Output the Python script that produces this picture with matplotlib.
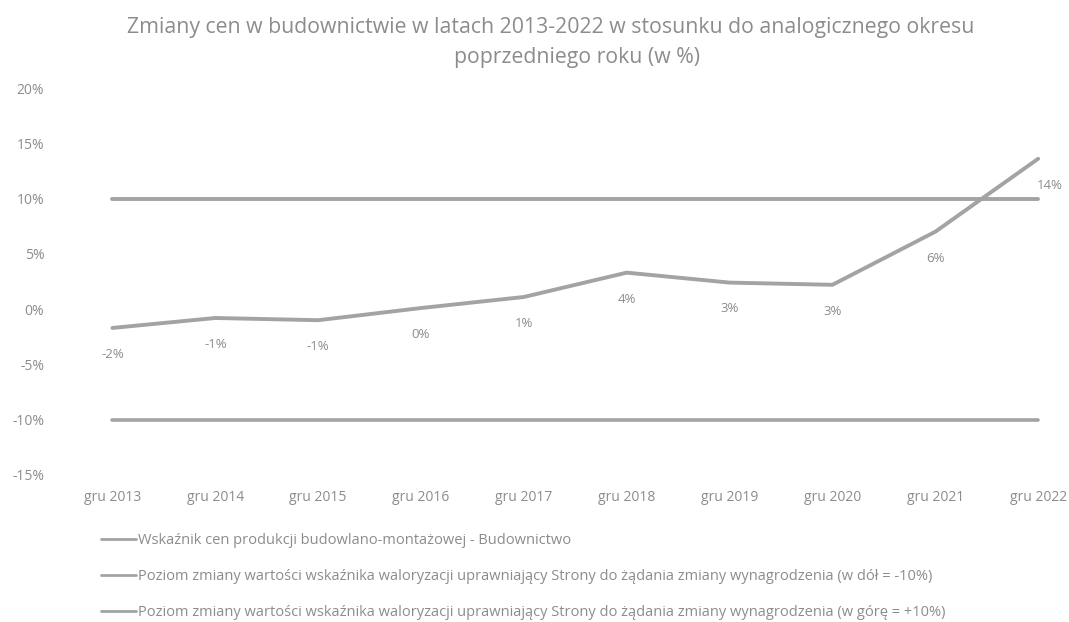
import matplotlib.pyplot as plt
import numpy as np

plt.rcParams['font.family'] = ['Open Sans', 'DejaVu Sans']

lata = ["gru 2013", "gru 2014", "gru 2015", "gru 2016", "gru 2017",
        "gru 2018", "gru 2019", "gru 2020", "gru 2021", "gru 2022"]
wskaznik = [-1.7, -0.8, -1.0, 0.1, 1.1, 3.3, 2.4, 2.2, 7.0, 13.6]
etykiety = ["-2%", "-1%", "-1%", "0%", "1%", "4%", "3%", "3%", "6%", "14%"]
poziom_dol = [-10] * 10
poziom_gora = [10] * 10

nazwy = [
    "Wskaźnik cen produkcji budowlano-montażowej - Budownictwo",
    "Poziom zmiany wartości wskaźnika waloryzacji uprawniający Strony do żądania zmiany wynagrodzenia (w dół = -10%)",
    "Poziom zmiany wartości wskaźnika waloryzacji uprawniający Strony do żądania zmiany wynagrodzenia (w górę = +10%)",
]

szary = "#a3a3a3"
tekst = "#8c8c8c"


def main():
    fig = plt.figure(figsize=(10.69, 6.22), dpi=100)
    ax = fig.add_axes([61 / 1069, 1 - 475 / 622, (1069 - 61) / 1069, (475 - 88) / 622])

    x = np.arange(len(lata))
    l1, = ax.plot(x, wskaznik, color=szary, lw=2.8, solid_capstyle="round")
    l2, = ax.plot(x, poziom_dol, color=szary, lw=2.6, solid_capstyle="round")
    l3, = ax.plot(x, poziom_gora, color=szary, lw=2.8, solid_capstyle="round")

    for xi, yi, lab in zip(x, wskaznik, etykiety):
        dx = 8 if xi == x[-1] else 0
        ax.annotate(lab, (xi, yi), xytext=(dx, -19), textcoords="offset points",
                    ha="center", va="center", fontsize=9.5, color=tekst)

    ax.set_xlim(-0.5, 9.3)
    ax.set_ylim(-15, 20)
    ax.set_yticks(np.arange(-15, 21, 5))
    ax.set_yticklabels([f"{v}%" for v in range(-15, 21, 5)])
    ax.set_xticks(x)
    ax.set_xticklabels(lata)
    ax.tick_params(length=0, labelsize=10, colors=tekst, pad=11)
    ax.tick_params(axis="y", pad=12)
    for s in ax.spines.values():
        s.set_visible(False)

    fig.text(0.515, 1 - 28 / 622, "Zmiany cen w budownictwie w latach 2013-2022 w stosunku do analogicznego okresu",
             ha="center", va="center", fontsize=15.3, color=tekst)
    fig.text(0.54, 1 - 58 / 622, "poprzedniego roku (w %)",
             ha="center", va="center", fontsize=15.3, color=tekst)

    fig.legend([l1, l2, l3], nazwy, loc="upper left", bbox_to_anchor=(94 / 1069, 1 - 526 / 622),
               frameon=False, fontsize=10.5, labelcolor=tekst, handlelength=2.4,
               handletextpad=0.15, labelspacing=1.42, borderpad=0)
    for h in fig.legends[0].legend_handles:
        h.set_linewidth(2.0)

    fig.savefig("out.png", dpi=100)


if __name__ == "__main__":
    main()
